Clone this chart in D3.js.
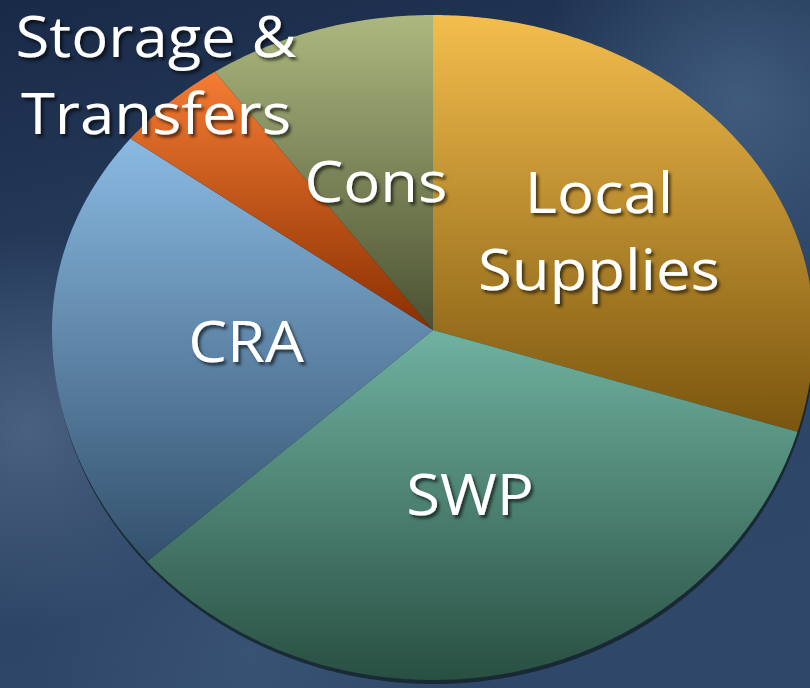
<!DOCTYPE html>
<html>
<head>
<meta charset="utf-8">
<script src="https://cdn.jsdelivr.net/npm/d3@7"></script>
<style>
  html, body { margin: 0; padding: 0; background: #223a5a; }
  svg { display: block; }
</style>
</head>
<body>
<svg id="chart" width="810" height="688"></svg>
<script>
"use strict";

// /////// DATA (share of supply, %)
const sources = ["Local Supplies", "SWP", "CRA", "Storage & Transfers", "Cons"];
const shares = [29.7, 33.8, 21.9, 4.9, 9.7];
// colours: top / bottom of each slice gradient
const topColours = ["#f4be4d", "#70b2a0", "#8abae2", "#f57c34", "#acb87f"];
const bottomColours = ["#7a550e", "#284f42", "#32506c", "#8a2f00", "#4b5132"];

// label text split in lines
const labelLines = {
  "Local Supplies": ["Local", "Supplies"],
  SWP: ["SWP"],
  CRA: ["CRA"],
  "Storage & Transfers": ["Storage &", "Transfers"],
  Cons: ["Cons"],
};

// /////// LAYOUT
const width = 810;
const height = 688;
const cx = 433;
const cy = 330;
const rx = 381;
const ryTop = 315;
const ryBottom = 350;
const lineGap = 77;

// hand placed label anchors (centre x, first baseline y)
const labelAt = {
  "Local Supplies": [599, 213],
  SWP: [470, 515],
  CRA: [246, 362],
  "Storage & Transfers": [156, 57],
  Cons: [376, 202],
};

const svg = d3.select("#chart");
const defs = svg.append("defs");

// Background
const bg = defs
  .append("linearGradient")
  .attr("id", "bg")
  .attr("x1", 0)
  .attr("y1", 0)
  .attr("x2", 0.3)
  .attr("y2", 1);
bg.append("stop").attr("offset", 0).attr("stop-color", "#192a47");
bg.append("stop").attr("offset", 0.5).attr("stop-color", "#293f60");
bg.append("stop").attr("offset", 1).attr("stop-color", "#2f4869");

svg
  .append("rect")
  .attr("width", width)
  .attr("height", height)
  .attr("fill", "url(#bg)");

// soft light patches
const glows = [
  { id: "glow1", x: 740, y: 100, r: 210, c: "#55779a", o: 0.55 },
  { id: "glow2", x: 30, y: 430, r: 200, c: "#5f7696", o: 0.6 },
  { id: "glow3", x: 250, y: 650, r: 220, c: "#4b6788", o: 0.35 },
];
glows.forEach((g) => {
  const rg = defs.append("radialGradient").attr("id", g.id);
  rg.append("stop").attr("offset", 0).attr("stop-color", g.c).attr("stop-opacity", g.o);
  rg.append("stop").attr("offset", 1).attr("stop-color", g.c).attr("stop-opacity", 0);
  svg
    .append("circle")
    .attr("cx", g.x)
    .attr("cy", g.y)
    .attr("r", g.r)
    .attr("fill", `url(#${g.id})`);
});

// Slice gradients
sources.forEach((s, i) => {
  const lg = defs
    .append("linearGradient")
    .attr("id", `slice${i}`)
    .attr("x1", 0)
    .attr("y1", 0)
    .attr("x2", 0)
    .attr("y2", 1);
  lg.append("stop").attr("offset", 0).attr("stop-color", topColours[i]);
  lg.append("stop").attr("offset", 1).attr("stop-color", bottomColours[i]);
});

// Text shadow
const shadow = defs
  .append("filter")
  .attr("id", "shadow")
  .attr("x", "-10%")
  .attr("y", "-20%")
  .attr("width", "130%")
  .attr("height", "150%");
shadow
  .append("feDropShadow")
  .attr("dx", 2.5)
  .attr("dy", 3)
  .attr("stdDeviation", 1.5)
  .attr("flood-color", "#000")
  .attr("flood-opacity", 0.6);

// Point on the (perspective) ellipse for a pie angle
function rim(a, k = 1) {
  const ry = Math.cos(a) >= 0 ? ryTop : ryBottom;
  return [cx + rx * k * Math.sin(a), cy - ry * k * Math.cos(a)];
}

const pie = d3.pie().sort(null).value((d) => d.value);
const arcs = pie(sources.map((s, i) => ({ name: s, value: shares[i], i })));

const line = d3.line();

function slicePath(d) {
  const steps = Math.max(8, Math.ceil((d.endAngle - d.startAngle) / 0.01));
  const pts = [[cx, cy]];
  for (let j = 0; j <= steps; j++) {
    pts.push(rim(d.startAngle + ((d.endAngle - d.startAngle) * j) / steps));
  }
  return line(pts) + "Z";
}

// dark rim under the pie
const whole = { startAngle: 0, endAngle: 2 * Math.PI };
svg
  .append("path")
  .attr("d", slicePath(whole))
  .attr("transform", "translate(1, 4)")
  .attr("fill", "#14242a")
  .attr("opacity", 0.85);

svg
  .append("g")
  .selectAll("path")
  .data(arcs)
  .join("path")
  .attr("d", slicePath)
  .attr("fill", (d) => `url(#slice${d.data.i})`);

// Labels
const labels = svg
  .append("g")
  .attr("font-family", "'Open Sans', sans-serif")
  .attr("font-size", 57)
  .attr("font-weight", 500)
  .attr("fill", "#ffffff")
  .attr("text-anchor", "middle")
  .attr("filter", "url(#shadow)");

arcs.forEach((d) => {
  const [x, y] = labelAt[d.data.name];
  labelLines[d.data.name].forEach((t, j) => {
    labels
      .append("text")
      .attr("transform", `translate(${x}, ${y + j * lineGap}) scale(1.08, 1)`)
      .text(t);
  });
});
</script>
</body>
</html>
